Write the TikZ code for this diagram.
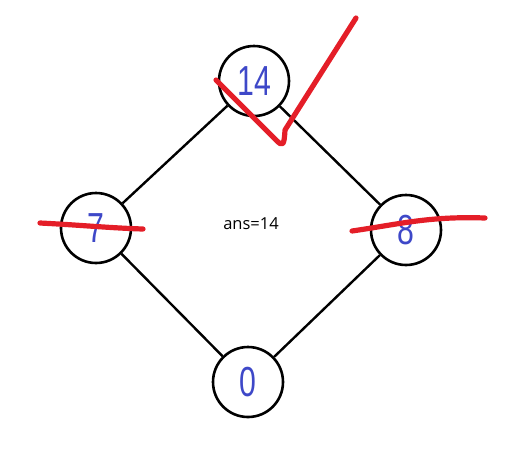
\documentclass[tikz,border=0pt]{standalone}
\usepackage{fontspec}
\setmainfont{Liberation Sans}
\newfontfamily\labelfont{Open Sans}
\definecolor{InkBlue}{RGB}{62, 72, 200}
\definecolor{InkRed}{RGB}{228, 30, 40}
\usetikzlibrary{positioning}

\begin{document}
\begin{tikzpicture}[x=1pt, y=-1pt,
    vertex/.style={draw, circle, line width=2.6pt, minimum size=70pt, inner sep=0pt,
        text=InkBlue, font=\fontsize{42}{42}\selectfont},
    edge/.style={line width=2.4pt},
    strike/.style={InkRed, line width=5.2pt, line cap=round, line join=round}]
    \useasboundingbox (0,0) rectangle (526,472);
    \node[vertex] (n14) at (254,81) {\scalebox{0.72}[1]{14}};
    \node[vertex] (n7) at (96,228) {\scalebox{0.72}[1]{7}};
    \node[vertex] (n8) at (406,230) {\scalebox{0.72}[1]{8}};
    \node[vertex] (n0) at (248,382) {\scalebox{0.72}[1]{0}};
    \node[font=\labelfont\fontsize{16.5}{16.5}\selectfont] (ans) at (251,224) {ans=14};
    \draw[edge] (n14) -- (n7);
    \draw[edge] (n14) -- (n8);
    \draw[edge] (n7) -- (n0);
    \draw[edge] (n8) -- (n0);
    % red marks
    \draw[strike] (216,80) -- (276,140) .. controls (283,147) and (284,146) .. (285,130)
        -- (356,18);
    \draw[strike] (40,223) .. controls (80,225) and (110,228) .. (143,229);
    \draw[strike] (352,231) .. controls (400,224) and (430,216) .. (485,218);
\end{tikzpicture}
\end{document}
